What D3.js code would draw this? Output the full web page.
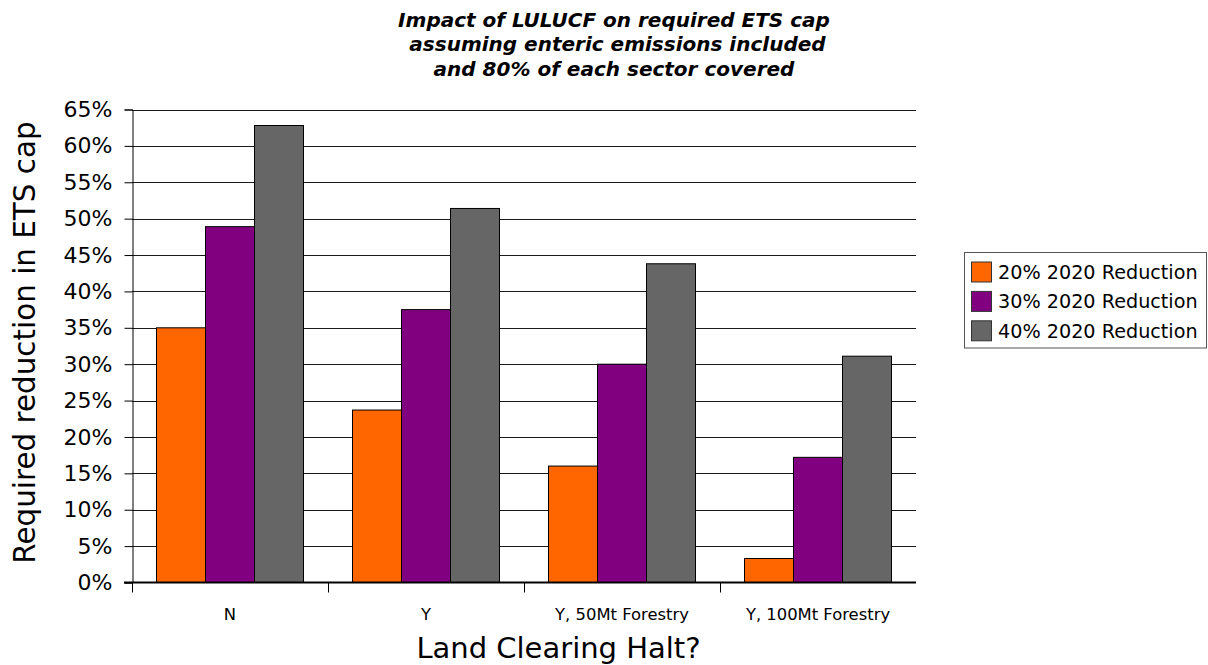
<!DOCTYPE html>
<html>
<head>
<meta charset="utf-8">
<script src="https://cdn.jsdelivr.net/npm/d3@7/dist/d3.min.js"></script>
<style>
  html, body { margin: 0; padding: 0; background: #fff; }
  svg { display: block; font-family: "DejaVu Sans", sans-serif; }
</style>
</head>
<body>
<svg id="chart" width="1208" height="665"></svg>
<script>
// Categories along the x axis
const categories = ["N", "Y", "Y, 50Mt Forestry", "Y, 100Mt Forestry"];
// Series names and values (percent reduction in ETS cap)
const seriesNames = ["20% 2020 Reduction", "30% 2020 Reduction", "40% 2020 Reduction"];
const reduction20 = [35.0, 23.7, 16.0, 3.3];
const reduction30 = [48.9, 37.5, 30.0, 17.2];
const reduction40 = [62.8, 51.4, 43.8, 31.1];
const seriesColors = ["#ff6600", "#800080", "#666666"];
// Y axis ticks
const yTicks = [0, 5, 10, 15, 20, 25, 30, 35, 40, 45, 50, 55, 60, 65];

const titleLines = [
  "Impact of LULUCF on required ETS cap",
  " assuming enteric emissions included",
  "and 80% of each sector covered"
];

const series = [reduction20, reduction30, reduction40];

const svg = d3.select("#chart");
const plot = { left: 132, right: 916, top: 109.5, bottom: 582.5 };

const x0 = d3.scaleBand().domain(categories).range([plot.left, plot.right]).paddingInner(0).paddingOuter(0);
const x1 = d3.scaleBand().domain(d3.range(seriesNames.length))
  .range([0, x0.bandwidth()]).paddingInner(0).paddingOuter(0.5);
const y = d3.scaleLinear().domain([0, 65]).range([plot.bottom, plot.top]);

// Horizontal gridlines
svg.append("g").selectAll("line").data(yTicks.filter(d => d > 0)).join("line")
  .attr("x1", plot.left).attr("x2", plot.right)
  .attr("y1", d => Math.round(y(d)) + 0.5).attr("y2", d => Math.round(y(d)) + 0.5)
  .attr("stroke", "#1a1a1a").attr("stroke-width", 1);

// Bars
const groups = svg.append("g").selectAll("g").data(categories).join("g")
  .attr("transform", d => `translate(${x0(d)},0)`);
groups.selectAll("rect")
  .data((c, i) => series.map((s, k) => ({ k, v: s[i] })))
  .join("rect")
  .attr("x", d => x1(d.k))
  .attr("width", x1.bandwidth())
  .attr("y", d => y(d.v))
  .attr("height", d => y(0) - y(d.v))
  .attr("fill", d => seriesColors[d.k])
  .attr("stroke", "#000").attr("stroke-width", 1);

// Y axis
const yAxis = d3.axisLeft(y).tickValues(yTicks).tickSize(8).tickPadding(12)
  .tickFormat(d => d + "%");
const gy = svg.append("g").attr("transform", `translate(${plot.left + 0.5},0)`).call(yAxis);
gy.select(".domain").attr("stroke", "#000");
gy.selectAll(".tick line").attr("stroke", "#000");
gy.selectAll(".tick text").attr("font-size", 22).attr("fill", "#000")
  .attr("font-family", "DejaVu Sans, sans-serif");

// X axis: baseline, separator ticks and category labels
const gx = svg.append("g");
gx.append("line").attr("x1", plot.left - 8).attr("x2", plot.right)
  .attr("y1", plot.bottom).attr("y2", plot.bottom)
  .attr("stroke", "#000").attr("stroke-width", 2);
gx.selectAll("line.sep").data(categories).join("line").attr("class", "sep")
  .attr("x1", d => Math.round(x0(d)) + 0.5).attr("x2", d => Math.round(x0(d)) + 0.5)
  .attr("y1", plot.bottom).attr("y2", plot.bottom + 10)
  .attr("stroke", "#000");
gx.selectAll("text").data(categories).join("text")
  .attr("x", d => x0(d) + x0.bandwidth() / 2)
  .attr("y", 620)
  .attr("text-anchor", "middle")
  .attr("font-size", 16.4)
  .text(d => d);

// Axis titles
svg.append("text").attr("x", 558.5).attr("y", 657.5).attr("text-anchor", "middle")
  .attr("font-size", 29).text("Land Clearing Halt?");
svg.append("text").attr("transform", "translate(34.5,342.5) rotate(-90)")
  .attr("text-anchor", "middle").attr("font-size", 29.4)
  .text("Required reduction in ETS cap");

// Chart title
svg.append("g").selectAll("text").data(titleLines).join("text")
  .attr("x", 614).attr("y", (d, i) => 27 + i * 24.3)
  .attr("text-anchor", "middle")
  .attr("font-size", 20).attr("font-weight", "bold").attr("font-style", "italic")
  .style("white-space", "pre")
  .text(d => d);

// Legend
const lg = svg.append("g").attr("transform", "translate(964.5,252.5)");
lg.append("rect").attr("width", 242).attr("height", 95.5)
  .attr("fill", "#fff").attr("stroke", "#555");
const items = lg.selectAll("g").data(seriesNames).join("g")
  .attr("transform", (d, i) => `translate(0,${i * 29.4})`);
items.append("rect").attr("x", 7).attr("y", 9.5).attr("width", 20).attr("height", 20)
  .attr("fill", (d, i) => seriesColors[i]).attr("stroke", "#333");
items.append("text").attr("x", 33.5).attr("y", 26.5).attr("font-size", 19.2).text(d => d);
</script>
</body>
</html>
